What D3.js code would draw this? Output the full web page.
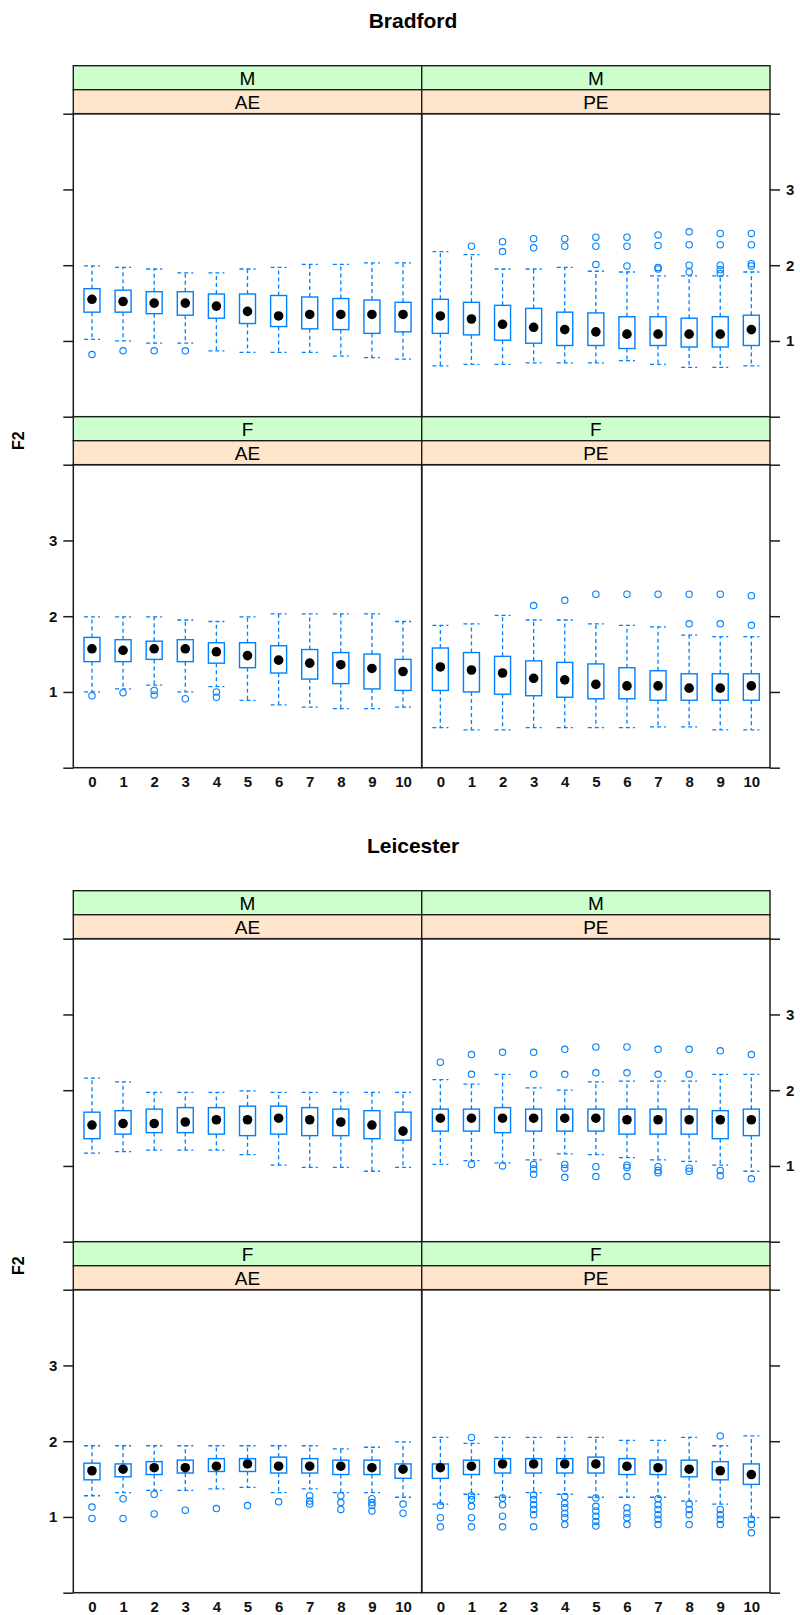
<!DOCTYPE html>
<html>
<head>
<meta charset="utf-8">
<script src="https://cdn.jsdelivr.net/npm/d3@7"></script>
<style>
  body { margin: 0; background: #fff; }
  svg text { font-family: "Liberation Sans", Arial, Helvetica, sans-serif; }
</style>
</head>
<body>
<svg id="chart" width="800" height="1615"></svg>
<script>
// ---- categories and tick labels ----
const cities = ["Bradford", "Leicester"];
const sexes = ["M", "F"];
const tasks = ["AE", "PE"];
const steps = ["0", "1", "2", "3", "4", "5", "6", "7", "8", "9", "10"];
const yTickValues = [0, 1, 2, 3, 4];
const yTickLabels = ["", "1", "2", "3", ""];
const yLabel = "F2";

// ---- box statistics per step: [lower whisker, Q1, median, Q3, upper whisker] ----
const bradfordMAE = [
  [1.02, 1.38, 1.55, 1.69, 1.99], [1.00, 1.38, 1.52, 1.67, 1.97], [0.97, 1.36, 1.50, 1.65, 1.95],
  [0.97, 1.34, 1.50, 1.65, 1.90], [0.87, 1.30, 1.46, 1.62, 1.90], [0.85, 1.23, 1.39, 1.62, 1.95],
  [0.85, 1.19, 1.33, 1.60, 1.97], [0.85, 1.16, 1.35, 1.58, 2.01], [0.80, 1.15, 1.35, 1.56, 2.01],
  [0.78, 1.10, 1.35, 1.54, 2.03], [0.76, 1.12, 1.35, 1.51, 2.03]
];
const bradfordMAEOut = [[0.82], [0.87], [0.87], [0.87], [], [], [], [], [], [], []];

const bradfordMPE = [
  [0.67, 1.10, 1.33, 1.55, 2.18], [0.69, 1.08, 1.29, 1.51, 2.14], [0.69, 1.01, 1.22, 1.47, 1.95],
  [0.71, 0.97, 1.18, 1.43, 1.95], [0.71, 0.94, 1.15, 1.38, 1.97], [0.71, 0.94, 1.12, 1.37, 1.92],
  [0.74, 0.90, 1.09, 1.32, 1.91], [0.69, 0.94, 1.09, 1.32, 1.86], [0.65, 0.92, 1.09, 1.30, 1.86],
  [0.65, 0.92, 1.09, 1.32, 1.86], [0.67, 0.94, 1.15, 1.34, 1.91]
];
const bradfordMPEOut = [
  [], [2.25], [2.31, 2.18], [2.35, 2.23], [2.35, 2.25], [2.37, 2.25, 2.01], [2.37, 2.25, 1.99],
  [2.40, 2.26, 1.97, 1.95], [2.44, 2.27, 2.00, 1.91], [2.42, 2.27, 2.00, 1.94, 1.89], [2.42, 2.27, 2.02, 1.99]
];

const bradfordFAE = [
  [1.00, 1.40, 1.57, 1.72, 1.99], [1.04, 1.40, 1.55, 1.69, 1.99], [1.09, 1.43, 1.57, 1.67, 1.99],
  [1.00, 1.40, 1.57, 1.69, 1.95], [1.07, 1.38, 1.53, 1.65, 1.93], [0.89, 1.32, 1.48, 1.65, 1.99],
  [0.83, 1.25, 1.42, 1.61, 2.03], [0.80, 1.17, 1.38, 1.56, 2.03], [0.78, 1.11, 1.36, 1.52, 2.03],
  [0.78, 1.04, 1.31, 1.50, 2.03], [0.80, 1.02, 1.27, 1.43, 1.93]
];
const bradfordFAEOut = [[0.95], [0.99], [1.02, 0.96], [0.91], [1.00, 0.93], [], [], [], [], [], []];

const bradfordFPE = [
  [0.53, 1.02, 1.33, 1.58, 1.88], [0.50, 1.00, 1.29, 1.52, 1.90], [0.50, 0.97, 1.25, 1.47, 2.01],
  [0.53, 0.95, 1.18, 1.41, 1.95], [0.53, 0.93, 1.16, 1.39, 1.95], [0.53, 0.91, 1.10, 1.37, 1.90],
  [0.53, 0.91, 1.08, 1.32, 1.88], [0.54, 0.89, 1.08, 1.28, 1.86], [0.54, 0.89, 1.05, 1.24, 1.75],
  [0.50, 0.89, 1.05, 1.24, 1.73], [0.50, 0.89, 1.08, 1.24, 1.73]
];
const bradfordFPEOut = [[], [], [], [2.14], [2.21], [2.29], [2.29], [2.29], [2.29, 1.90], [2.29, 1.90], [2.27, 1.88]];

const leicesterMAE = [
  [1.17, 1.36, 1.54, 1.71, 2.16], [1.19, 1.42, 1.56, 1.73, 2.11], [1.21, 1.44, 1.56, 1.75, 1.97],
  [1.21, 1.44, 1.58, 1.77, 1.97], [1.21, 1.42, 1.61, 1.77, 1.97], [1.15, 1.40, 1.61, 1.79, 1.99],
  [1.01, 1.42, 1.63, 1.79, 1.97], [0.98, 1.40, 1.61, 1.77, 1.97], [0.98, 1.40, 1.58, 1.75, 1.97],
  [0.93, 1.36, 1.54, 1.73, 1.97], [0.98, 1.34, 1.46, 1.71, 1.97]
];
const leicesterMAEOut = [[], [], [], [], [], [], [], [], [], [], []];

const leicesterMPE = [
  [1.02, 1.46, 1.63, 1.75, 2.14], [1.07, 1.46, 1.63, 1.75, 2.08], [1.04, 1.44, 1.63, 1.77, 2.21],
  [1.08, 1.46, 1.63, 1.75, 2.03], [1.16, 1.46, 1.63, 1.75, 2.00], [1.15, 1.46, 1.63, 1.75, 2.11],
  [1.11, 1.42, 1.61, 1.75, 2.12], [1.08, 1.42, 1.61, 1.75, 2.12], [1.06, 1.42, 1.61, 1.75, 2.12],
  [1.01, 1.36, 1.61, 1.73, 2.21], [0.93, 1.40, 1.61, 1.75, 2.21]
];
const leicesterMPEOut = [
  [2.37], [2.47, 2.21, 1.02], [2.50, 1.00], [2.50, 2.21, 1.02, 0.96, 0.89], [2.54, 2.21, 1.02, 0.97, 0.85],
  [2.57, 2.23, 0.99, 0.86], [2.57, 2.23, 1.01, 0.98, 0.86], [2.54, 2.21, 0.99, 0.94, 0.91],
  [2.54, 2.21, 0.97, 0.93], [2.52, 0.94, 0.87], [2.47, 0.83]
];

const leicesterFAE = [
  [1.28, 1.49, 1.61, 1.71, 1.94], [1.32, 1.53, 1.63, 1.70, 1.94], [1.35, 1.56, 1.65, 1.73, 1.94],
  [1.35, 1.58, 1.65, 1.75, 1.94], [1.37, 1.60, 1.67, 1.77, 1.94], [1.39, 1.60, 1.70, 1.77, 1.94],
  [1.32, 1.58, 1.67, 1.79, 1.94], [1.37, 1.58, 1.67, 1.77, 1.94], [1.32, 1.56, 1.67, 1.75, 1.90],
  [1.32, 1.56, 1.65, 1.75, 1.92], [1.26, 1.51, 1.63, 1.70, 1.99]
];
const leicesterFAEOut = [
  [1.13, 0.98], [1.24, 0.98], [1.30, 1.04], [1.09], [1.11], [1.15], [1.20],
  [1.28, 1.21, 1.17], [1.28, 1.19, 1.10], [1.24, 1.19, 1.15, 1.08], [1.17, 1.05]
];

const leicesterFPE = [
  [1.17, 1.51, 1.65, 1.70, 2.05], [1.30, 1.56, 1.67, 1.75, 1.97], [1.26, 1.58, 1.70, 1.77, 2.05],
  [1.32, 1.58, 1.70, 1.77, 2.05], [1.30, 1.58, 1.70, 1.77, 2.05], [1.26, 1.58, 1.70, 1.79, 2.05],
  [1.26, 1.56, 1.67, 1.77, 2.01], [1.26, 1.56, 1.65, 1.75, 2.01], [1.21, 1.53, 1.63, 1.75, 2.05],
  [1.17, 1.49, 1.61, 1.73, 1.94], [0.99, 1.43, 1.56, 1.70, 2.07]
];
const leicesterFPEOut = [
  [1.15, 0.99, 0.87], [2.05, 1.28, 1.23, 1.14, 0.99, 0.87], [1.25, 1.16, 1.01, 0.87],
  [1.29, 1.23, 1.16, 1.10, 1.03, 0.87], [1.27, 1.18, 1.12, 1.05, 0.99, 0.90],
  [1.25, 1.14, 1.08, 1.01, 0.94, 0.88], [1.12, 1.05, 0.99, 0.90],
  [1.24, 1.16, 1.10, 1.03, 0.97, 0.90], [1.17, 1.10, 1.03, 0.90],
  [2.07, 1.10, 1.03, 0.97, 0.90], [0.97, 0.90, 0.79]
];

// panel contents in layout order: city -> [row][col]
const panelData = {
  Bradford: [
    [{ s: bradfordMAE, o: bradfordMAEOut }, { s: bradfordMPE, o: bradfordMPEOut }],
    [{ s: bradfordFAE, o: bradfordFAEOut }, { s: bradfordFPE, o: bradfordFPEOut }]
  ],
  Leicester: [
    [{ s: leicesterMAE, o: leicesterMAEOut }, { s: leicesterMPE, o: leicesterMPEOut }],
    [{ s: leicesterFAE, o: leicesterFAEOut }, { s: leicesterFPE, o: leicesterFPEOut }]
  ]
};

// ---- layout ----
const svg = d3.select("#chart");
const colX = [73.3, 421.7, 770];       // left edge, divider, right edge
const blockH = 825;                    // vertical offset between the two cities
const firstStripTop = 65.7;
const stripH = 24;
const panelH = 303;
const rowH = 2 * stripH + panelH;
const boxW = 16;
const blue = "#0080ff";
const frame = "#1c1c1c";
const stripColors = ["#ccffcc", "#ffe5cc"];

cities.forEach((city, ci) => {
  const oy = ci * blockH;
  const g = svg.append("g");

  // title
  g.append("text")
    .attr("x", 413).attr("y", oy + 20.5).attr("dy", "0.35em")
    .attr("text-anchor", "middle")
    .attr("font-size", 21).attr("font-weight", "bold")
    .text(city);

  // y label, centred on the span of the panel rows
  const firstPanelTop = oy + firstStripTop + 2 * stripH;
  const lastPanelBottom = oy + firstStripTop + rowH + 2 * stripH + panelH;
  g.append("text")
    .attr("transform", `translate(18,${(firstPanelTop + lastPanelBottom) / 2}) rotate(-90)`)
    .attr("dy", "0.35em")
    .attr("text-anchor", "middle")
    .attr("font-size", 16).attr("font-weight", "bold")
    .text(yLabel);

  sexes.forEach((sex, ri) => {
    const stripTop = oy + firstStripTop + ri * rowH;
    const pTop = stripTop + 2 * stripH;
    const pBot = pTop + panelH;
    const y = d3.scaleLinear().domain([0, 4]).range([pBot, pTop]);

    tasks.forEach((task, cj) => {
      const x0 = colX[cj], x1 = colX[cj + 1];
      const x = d3.scalePoint().domain(steps).range([x0, x1]).padding(0.6);
      const pg = g.append("g");
      const pd = panelData[city][ri][cj];

      // strips: outer factor (sex) on top, inner (task) nearest the panel
      [sex, task].forEach((lab, k) => {
        pg.append("rect")
          .attr("x", x0).attr("y", stripTop + k * stripH)
          .attr("width", x1 - x0).attr("height", stripH)
          .attr("fill", stripColors[k]).attr("stroke", frame).attr("stroke-width", 1.4);
        pg.append("text")
          .attr("x", (x0 + x1) / 2).attr("y", stripTop + k * stripH + stripH / 2)
          .attr("dy", "0.36em").attr("text-anchor", "middle")
          .attr("font-size", 19).attr("fill", "#000")
          .text(lab);
      });

      // boxes
      const boxes = pg.append("g");
      steps.forEach((st, i) => {
        const [lo, q1, med, q3, hi] = pd.s[i];
        const cx = x(st);
        const bg = boxes.append("g");
        // whiskers and caps
        [[q3, hi], [q1, lo]].forEach(([a, b]) => {
          bg.append("line")
            .attr("x1", cx).attr("x2", cx).attr("y1", y(a)).attr("y2", y(b))
            .attr("stroke", blue).attr("stroke-width", 1.3).attr("stroke-dasharray", "4,3");
          bg.append("line")
            .attr("x1", cx - boxW / 2).attr("x2", cx + boxW / 2).attr("y1", y(b)).attr("y2", y(b))
            .attr("stroke", blue).attr("stroke-width", 1.3).attr("stroke-dasharray", "4,3");
        });
        // box
        bg.append("rect")
          .attr("x", cx - boxW / 2).attr("y", y(q3))
          .attr("width", boxW).attr("height", y(q1) - y(q3))
          .attr("fill", "none").attr("stroke", blue).attr("stroke-width", 1.4);
        // outliers
        pd.o[i].forEach(v => {
          bg.append("circle")
            .attr("cx", cx).attr("cy", y(v)).attr("r", 3.2)
            .attr("fill", "none").attr("stroke", blue).attr("stroke-width", 1.1);
        });
        // median dot
        bg.append("circle")
          .attr("cx", cx).attr("cy", y(med)).attr("r", 4.8)
          .attr("fill", "#000");
      });

      // panel frame
      pg.append("rect")
        .attr("x", x0).attr("y", pTop).attr("width", x1 - x0).attr("height", panelH)
        .attr("fill", "none").attr("stroke", frame).attr("stroke-width", 1.5);

      // y axis: left column on the left, right column on the right;
      // labels alternate (top row on the right, bottom row on the left)
      const showLabels = (ri === 0 && cj === 1) || (ri === 1 && cj === 0);
      const axis = (cj === 0 ? d3.axisLeft(y) : d3.axisRight(y))
        .tickValues(yTickValues)
        .tickSize(10).tickPadding(6)
        .tickFormat((d, i) => showLabels ? yTickLabels[i] : "");
      const ag = pg.append("g")
        .attr("transform", `translate(${cj === 0 ? x0 : x1},0)`)
        .call(axis);
      ag.select(".domain").remove();
      ag.selectAll(".tick line").attr("stroke", frame).attr("stroke-width", 1.5);
      ag.selectAll(".tick text")
        .attr("font-size", 15).attr("font-weight", "bold").attr("fill", "#111")
        .style("font-family", "'Liberation Sans', Arial, sans-serif");

      // x axis labels under the bottom row
      if (ri === 1) {
        const xg = pg.append("g")
          .attr("transform", `translate(0,${pBot})`)
          .call(d3.axisBottom(x).tickSize(0).tickPadding(9));
        xg.select(".domain").remove();
        xg.selectAll(".tick text")
          .attr("font-size", 15).attr("font-weight", "bold").attr("fill", "#111")
          .style("font-family", "'Liberation Sans', Arial, sans-serif");
      }
    });
  });
});
</script>
</body>
</html>
